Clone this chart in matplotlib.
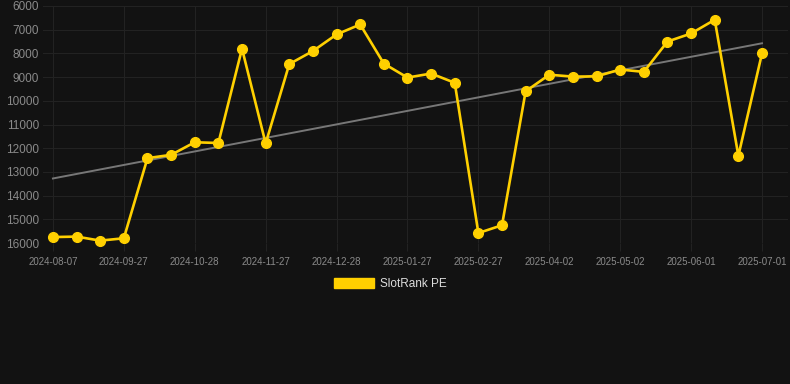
import matplotlib.pyplot as plt
import numpy as np

plt.rcParams['font.family'] = ['Liberation Sans', 'DejaVu Sans']

dates = ["2024-08-07", "2024-08-24", "2024-09-10", "2024-09-27", "2024-10-07",
         "2024-10-17", "2024-10-28", "2024-11-07", "2024-11-17", "2024-11-27",
         "2024-12-07", "2024-12-17", "2024-12-28", "2025-01-07", "2025-01-17",
         "2025-01-27", "2025-02-06", "2025-02-16", "2025-02-27", "2025-03-10",
         "2025-03-21", "2025-04-02", "2025-04-12", "2025-04-22", "2025-05-02",
         "2025-05-12", "2025-05-22", "2025-06-01", "2025-06-11", "2025-06-21",
         "2025-07-01"]
rank = [15750, 15730, 15900, 15800, 12420, 12280, 11750, 11780, 7800, 11800,
        8450, 7900, 7200, 6780, 8430, 9020, 8850, 9240, 15580, 15250,
        9600, 8900, 8980, 8970, 8680, 8780, 7500, 7160, 6580, 12320, 8000]
series_name = "SlotRank PE"

bg = "#121212"
grid_c = "#222222"
label_c = "#8a8a8a"
yellow = "#FFD000"

W, H = 790, 384
fig = plt.figure(figsize=(W / 100, H / 100), dpi=100, facecolor=bg)
ax = fig.add_axes([43 / W, 1 - 243 / H, (788 - 43) / W, (243 - 6) / H], facecolor=bg)

x = np.arange(len(rank))
ax.plot(x, rank, color=yellow, lw=1.9, marker="o", ms=7.0, clip_on=False, zorder=3)

# linear trend
k, b = np.polyfit(x, rank, 1)
ax.plot(x, k * x + b, color="#777777", lw=1.4, zorder=2)

ax.set_xlim(-0.42, 31.1)
ax.set_ylim(16000, 6000)
ax.set_yticks(range(6000, 16001, 1000))
ax.set_xticks(x[::3])
ax.set_xticklabels(dates[::3])

ax.grid(True, color=grid_c, lw=0.8)
for s in ax.spines.values():
    s.set_visible(False)
ax.tick_params(axis="y", length=0, pad=3, labelsize=8.5, labelcolor=label_c)
ax.tick_params(axis="x", length=6, color=grid_c, pad=4, labelsize=7, labelcolor=label_c)

leg = fig.legend(handles=[plt.Rectangle((0, 0), 1, 1, color=yellow)], labels=[series_name],
                 loc="center", bbox_to_anchor=(390 / W, 1 - 284 / H), frameon=False,
                 handlelength=3.4, handleheight=0.95, handletextpad=0.5, fontsize=8.5)
for t in leg.get_texts():
    t.set_color("#dddddd")

fig.savefig("out.png", dpi=100, facecolor=bg)
